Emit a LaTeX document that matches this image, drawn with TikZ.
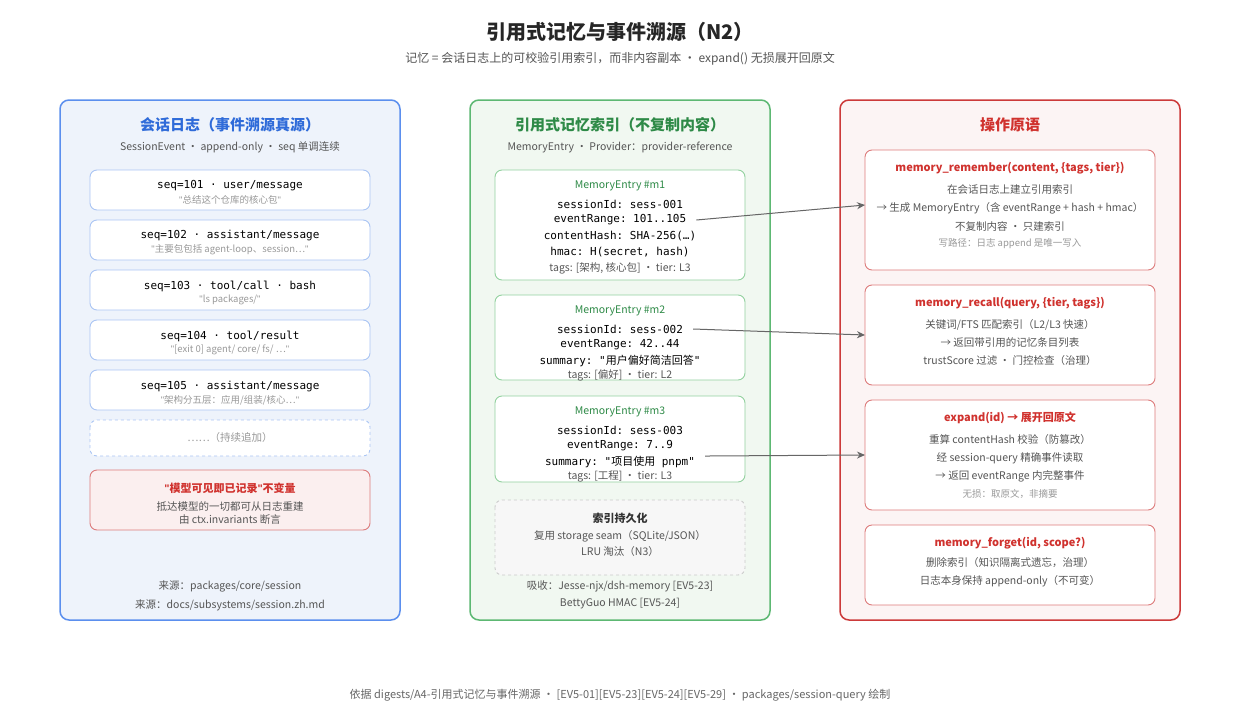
\documentclass[tikz,border=0pt]{standalone}
\usepackage{fontspec}
\setmainfont{Noto Sans CJK SC}
\setmonofont{DejaVu Sans Mono}
\newfontfamily\cjk{Noto Sans CJK SC}
\newfontfamily\latinq{Liberation Sans}
\usepackage{tikz}
\usetikzlibrary{positioning,arrows.meta}
\definecolor{logblue}{HTML}{5B8FEE}
\definecolor{logfill}{HTML}{EEF3FB}
\definecolor{logtext}{HTML}{2F6BD9}
\definecolor{evline}{HTML}{AAC5F4}
\definecolor{idxgreen}{HTML}{5DB873}
\definecolor{idxfill}{HTML}{F1F8F1}
\definecolor{idxtext}{HTML}{2E8A47}
\definecolor{entline}{HTML}{93D19F}
\definecolor{opred}{HTML}{CC3A3A}
\definecolor{opfill}{HTML}{FCF4F4}
\definecolor{opline}{HTML}{DD7B7B}
\definecolor{optext}{HTML}{D0322E}
\definecolor{invfill}{HTML}{FBEFEF}
\definecolor{subgray}{HTML}{555555}
\definecolor{ltgray}{HTML}{999999}
\newcommand{\fsz}[1]{\fontsize{#1}{#1}\selectfont}
\newcommand{\dq}{{\latinq"}}
\begin{document}
\begin{tikzpicture}[
		x=1pt,y=-1pt,
		panel/.style={
		  draw,
		  rounded corners=9pt,
		  line width=1.5pt
		  },
		card/.style={
		  draw,
		  fill=white,
		  rounded corners=7pt,
		  line width=0.9pt
		  },
		txt/.style={
		  inner sep=0pt,
		  text=subgray,
		  font=\fsz{10.5}
		  },
		code/.style={
		  inner sep=0pt,
		  text=black,
		  font=\ttfamily\fsz{11}
		  },
		note/.style={
		  inner sep=0pt,
		  text=ltgray,
		  font=\fsz{9.5}
		  },
		head/.style={
		  inner sep=0pt,
		  font=\bfseries\fsz{15}
		  },
		link/.style={
		  draw=black!60,
		  line width=1pt,
		  -{Stealth[length=8pt,width=7pt]}
		  }
		]
		\useasboundingbox[fill=white] (0,0) rectangle (1240,720);
		% title
		\node[inner sep=0pt,font=\bfseries\fsz{20},text=black!85] (title) at (620,32) {引用式记忆与事件溯源（N2）};
		\node[txt,font=\fsz{12}] (subtitle) at (620,59) {记忆 = 会话日志上的可校验引用索引，而非内容副本 · expand() 无损展开回原文};
		% session log
		\draw[panel,draw=logblue,fill=logfill] (60,100) rectangle (400,620);
		\node[head,text=logtext] (loghead) at (230,125) {会话日志（事件溯源真源）};
		\node[txt] (logsub) at (230,147) {SessionEvent · append-only · seq 单调连续};
		\foreach \y/\ev/\quote [count=\i] in {
		  170/{seq=101 · user/message}/{\dq 总结这个仓库的核心包\dq},
		  220/{seq=102 · assistant/message}/{\dq 主要包包括 agent-loop、session…\dq},
		  270/{seq=103 · tool/call · bash}/{\dq ls packages/\dq},
		  320/{seq=104 · tool/result}/{\dq [exit 0] agent/ core/ fs/ …\dq},
		  370/{seq=105 · assistant/message}/{\dq 架构分五层：应用/组装/核心…\dq}}
		{
		  \draw[card,draw=evline] (90,\y) rectangle (370,\y+40);
		  \node[code] (ev\i) at (230,\y+16) {\ev};
		  \node[note] (evq\i) at (230,\y+30) {\quote};
		}
		\draw[card,draw=evline,dashed] (90,420) rectangle (370,456);
		\node[note,font=\fsz{10.5}] (more) at (230,438) {……（持续追加）};
		\draw[card,draw=opline,fill=invfill] (90,470) rectangle (370,530);
		\node[inner sep=0pt,text=optext,font=\bfseries\fsz{11}] (invhead) at (230,488) {\dq 模型可见即已记录\dq 不变量};
		\node[txt] (inv1) at (230,506) {抵达模型的一切都可从日志重建};
		\node[txt] (inv2) at (230,520) {由 ctx.invariants 断言};
		\node[txt] (src1) at (230,586) {来源：packages/core/session};
		\node[txt] (src2) at (230,605) {来源：docs/subsystems/session.zh.md};
		% memory index
		\draw[panel,draw=idxgreen,fill=idxfill] (470,100) rectangle (770,620);
		\node[head,text=idxtext] (idxhead) at (620,125) {引用式记忆索引（不复制内容）};
		\node[txt] (idxsub) at (620,147) {MemoryEntry · Provider：provider-reference};
		\draw[card,draw=entline] (495,170) rectangle (745,280);
		\node[inner sep=0pt,text=idxtext,font=\fsz{10.5}] (m1) at (620,186) {MemoryEntry \#m1};
		\node[code] (m1a) at (620,204) {sessionId: sess-001};
		\node[code] (m1b) at (620,220) {eventRange: 101..105};
		\node[code] (m1c) at (620,236) {contentHash: SHA-256(…)};
		\node[code] (m1d) at (620,252) {hmac: H(secret, hash)};
		\node[txt] (m1t) at (620,268) {tags: [架构, 核心包] · tier: L3};
		\draw[card,draw=entline] (495,295) rectangle (745,380);
		\node[inner sep=0pt,text=idxtext,font=\fsz{10.5}] (m2) at (620,311) {MemoryEntry \#m2};
		\node[code] (m2a) at (620,329) {sessionId: sess-002};
		\node[code] (m2b) at (620,345) {eventRange: 42..44};
		\node[code] (m2c) at (620,361) {summary: "{\cjk 用户偏好简洁回答}"};
		\node[txt] (m2t) at (620,375) {tags: [偏好] · tier: L2};
		\draw[card,draw=entline] (495,396) rectangle (745,482);
		\node[inner sep=0pt,text=idxtext,font=\fsz{10.5}] (m3) at (620,412) {MemoryEntry \#m3};
		\node[code] (m3a) at (620,430) {sessionId: sess-003};
		\node[code] (m3b) at (620,446) {eventRange: 7..9};
		\node[code] (m3c) at (620,462) {summary: "{\cjk 项目使用} pnpm"};
		\node[txt] (m3t) at (620,476) {tags: [工程] · tier: L3};
		\draw[card,draw=black!20,fill=black!3,dashed] (495,500) rectangle (745,575);
		\node[inner sep=0pt,text=black!80,font=\bfseries\fsz{11}] (persist) at (620,518) {索引持久化};
		\node[txt] (persist1) at (620,536) {复用 storage seam（SQLite/JSON）};
		\node[txt] (persist2) at (620,552) {LRU 淘汰（N3）};
		\node[txt] (abs1) at (620,586) {吸收：Jesse-njx/dsh-memory [EV5-23]};
		\node[txt] (abs2) at (620,604) {BettyGuo HMAC [EV5-24]};
		% primitives
		\draw[panel,draw=opred,fill=opfill] (840,100) rectangle (1180,620);
		\node[head,text=optext] (ophead) at (1010,125) {操作原语};
		\draw[card,draw=opline] (865,150) rectangle (1155,270);
		\node[inner sep=0pt,text=optext,font=\bfseries\fsz{11}] (rem) at (1010,168) {memory\_remember(content, \{tags, tier\})};
		\node[txt] (rem1) at (1010,190) {在会话日志上建立引用索引};
		\node[txt] (rem2) at (1010,208) {→ 生成 MemoryEntry（含 eventRange + hash + hmac）};
		\node[txt] (rem3) at (1010,226) {不复制内容 · 只建索引};
		\node[note] (rem4) at (1010,244) {写路径：日志 append 是唯一写入};
		\draw[card,draw=opline] (865,285) rectangle (1155,385);
		\node[inner sep=0pt,text=optext,font=\bfseries\fsz{11}] (rec) at (1010,303) {memory\_recall(query, \{tier, tags\})};
		\node[txt] (rec1) at (1010,325) {关键词/FTS 匹配索引（L2/L3 快速）};
		\node[txt] (rec2) at (1010,343) {→ 返回带引用的记忆条目列表};
		\node[txt] (rec3) at (1010,361) {trustScore 过滤 · 门控检查（治理）};
		\draw[card,draw=opline] (865,400) rectangle (1155,510);
		\node[inner sep=0pt,text=optext,font=\bfseries\fsz{11}] (exp) at (1010,418) {expand(id) → 展开回原文};
		\node[txt] (exp1) at (1010,440) {重算 contentHash 校验（防篡改）};
		\node[txt] (exp2) at (1010,458) {经 session-query 精确事件读取};
		\node[txt] (exp3) at (1010,476) {→ 返回 eventRange 内完整事件};
		\node[note] (exp4) at (1010,494) {无损：取原文，非摘要};
		\draw[card,draw=opline] (865,525) rectangle (1155,605);
		\node[inner sep=0pt,text=optext,font=\bfseries\fsz{11}] (fgt) at (1010,543) {memory\_forget(id, scope?)};
		\node[txt] (fgt1) at (1010,563) {删除索引（知识隔离式遗忘，治理）};
		\node[txt] (fgt2) at (1010,581) {日志本身保持 append-only（不可变）};
		% links
		\coordinate (remin) at (865,205);
		\coordinate (recin) at (865,335);
		\coordinate (expin) at (865,455);
		\draw[link] ([xshift=10pt]m1b.east) -- (remin);
		\draw[link] ([xshift=10pt]m2a.east) -- (recin);
		\draw[link] ([xshift=10pt]m3c.east |- m3c.north) -- (expin);
		% footer
		\node[txt,text=black!60,font=\fsz{11}] (footer) at (620,695) {依据 digests/A4-引用式记忆与事件溯源 · [EV5-01][EV5-23][EV5-24][EV5-29] · packages/session-query 绘制};
	\end{tikzpicture}
\end{document}
